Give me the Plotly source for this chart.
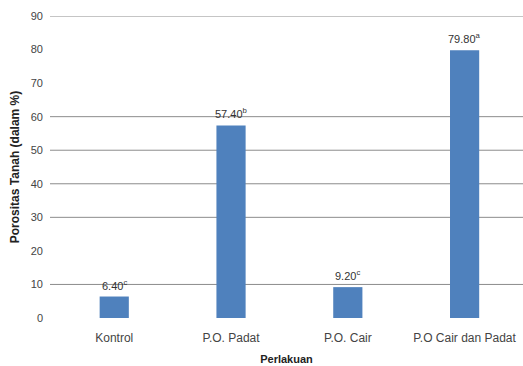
import plotly.graph_objects as go

# Soil porosity by treatment
categories = ["Kontrol", "P.O. Padat", "P.O. Cair", "P.O Cair dan Padat"]
porosity = [6.40, 57.40, 9.20, 79.80]
letters = ["c", "b", "c", "a"]
y_ticks = [0, 10, 20, 30, 40, 50, 60, 70, 80, 90]
grid_levels = [10, 30, 40, 50, 60, 90]

BAR = "#4F81BD"
FONT = "Liberation Sans"

fig = go.Figure(
    go.Bar(
        x=list(range(len(categories))),
        y=porosity,
        marker=dict(color=BAR, line=dict(width=0)),
        width=0.25,
        hoverinfo="skip",
    )
)

# Value labels with significance letters
for i, (v, s) in enumerate(zip(porosity, letters)):
    fig.add_annotation(
        x=i, y=v, xref="x", yref="y",
        text=f"{v:.2f}<sup>{s}</sup>",
        showarrow=False, yanchor="bottom", yshift=3,
        font=dict(family=FONT, size=11, color="#333333"),
    )

# Horizontal gridlines
for g in grid_levels:
    fig.add_shape(
        type="line", xref="paper", yref="y",
        x0=0, x1=1, y0=g, y1=g,
        line=dict(color="#8c8c8c", width=1),
        layer="below",
    )

fig.update_layout(
    width=523, height=366,
    margin=dict(l=50, r=0, t=16, b=48),
    paper_bgcolor="white", plot_bgcolor="white",
    showlegend=False,
    font=dict(family=FONT, size=11, color="#444444"),
    xaxis=dict(
        range=[-0.55, 3.5],
        tickmode="array",
        tickvals=list(range(len(categories))),
        ticktext=categories,
        showgrid=False, zeroline=False, showline=False,
        ticks="", ticklen=0,
        ticklabelstandoff=11,
        tickfont=dict(family=FONT, size=12, color="#444444"),
        title=dict(text="<b>Perlakuan</b>", standoff=11,
                   font=dict(family=FONT, size=11, color="#222222")),
    ),
    yaxis=dict(
        range=[0, 90],
        tickmode="array", tickvals=y_ticks,
        showgrid=False, zeroline=False, showline=False,
        ticks="", ticklen=0,
        ticklabelstandoff=6,
        tickfont=dict(family=FONT, size=11, color="#444444"),
        title=dict(text="<b>Porositas Tanah (dalam %)</b>", standoff=8,
                   font=dict(family=FONT, size=12, color="#222222")),
    ),
)

fig.write_html("out.html")
